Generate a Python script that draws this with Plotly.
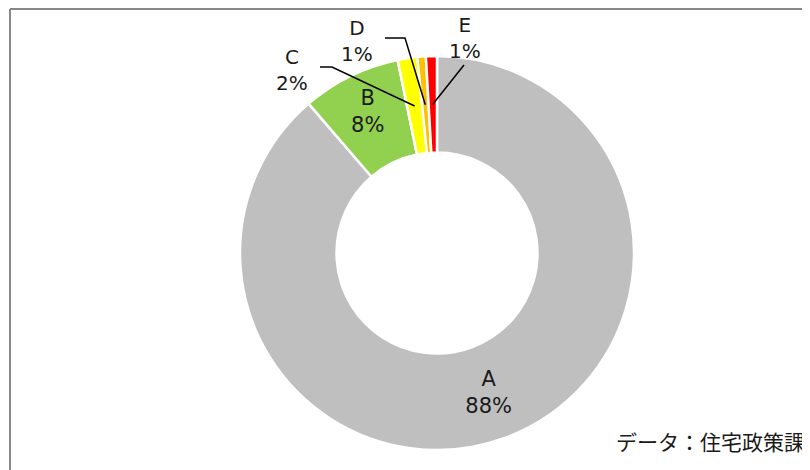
import math
import plotly.graph_objects as go

# ---- data ----
categories = ["A", "B", "C", "D", "E"]
shares = [88.7, 8.1, 1.6, 0.7, 0.9]
pct_labels = ["88%", "8%", "2%", "1%", "1%"]
colors = ["#BFBFBF", "#92D050", "#FFFF00", "#FFC000", "#FF0000"]
source_text = "データ：住宅政策課"

# the page body has an 8px margin: figure pixels = screen pixels - 8
OFF = 8
W, H = 810 - OFF, 470 - OFF
CX, CY, R = 437 - OFF, 253 - OFF, 197
HOLE = 0.51
FONT = "DejaVu Sans, Noto Sans CJK JP, sans-serif"
CJK_FONT = "Noto Sans CJK JP, sans-serif"
LABEL_SIZE = 21


def px(x):
    return x / W


def py(y):
    return 1 - y / H


fig = go.Figure()
fig.add_trace(go.Pie(
    labels=categories,
    values=shares,
    sort=False,
    direction="clockwise",
    rotation=0,
    hole=HOLE,
    marker=dict(colors=colors, line=dict(color="white", width=2.5)),
    text=[f"{c}<br>{p}" for c, p in zip(categories, pct_labels)],
    texttemplate=["%{text}", "%{text}", "", "", ""],
    textposition=["inside", "inside", "none", "none", "none"],
    insidetextorientation="horizontal",
    textfont=dict(family=FONT, size=LABEL_SIZE, color="#1a1a1a"),
    hoverinfo="label+percent",
    showlegend=False,
    domain=dict(x=[px(CX - R), px(CX + R)], y=[py(CY + R), py(CY - R)]),
))

# slice mid angles (clockwise from 12 o'clock) computed from the data
total = sum(shares)
mids = []
cum = 0.0
for v in shares:
    mids.append((cum + v / 2) / total * 2 * math.pi)
    cum += v

r_anchor = (R + R * HOLE) / 2


def anchor(i):
    a = mids[i]
    return CX + r_anchor * math.sin(a), CY - r_anchor * math.cos(a)


# outside labels with leader lines for the small slices (screen px, shifted)
label_pos = {2: (292, 70), 3: (357, 41), 4: (465, 38)}
leader_start = {2: [(320, 67), (332, 67)], 3: [(385, 38), (405, 38)], 4: [(464, 65)]}

annotations = []
shapes = []
for i, (lx, ly) in label_pos.items():
    annotations.append(dict(
        x=px(lx - OFF), y=py(ly - OFF), xref="paper", yref="paper",
        text=f"{categories[i]}<br>{pct_labels[i]}", showarrow=False,
        font=dict(family=FONT, size=LABEL_SIZE - 1, color="#1a1a1a"),
        xanchor="center", yanchor="middle",
    ))
    pts = [(x - OFF, y - OFF) for x, y in leader_start[i]] + [anchor(i)]
    path = "M " + " L ".join(f"{px(x)},{py(y)}" for x, y in pts)
    shapes.append(dict(type="path", xref="paper", yref="paper", path=path,
                       line=dict(color="black", width=1.5)))

annotations.append(dict(
    x=px(807 - OFF), y=py(441 - OFF), xref="paper", yref="paper",
    text=source_text, showarrow=False,
    font=dict(family=CJK_FONT, size=21, color="#1a1a1a"),
    xanchor="right", yanchor="middle",
))

# chart frame (left and top edges visible)
shapes.append(dict(type="line", xref="paper", yref="paper",
                   x0=px(10 - OFF), y0=py(9 - OFF), x1=px(W + 4), y1=py(9 - OFF),
                   line=dict(color="#888888", width=2)))
shapes.append(dict(type="line", xref="paper", yref="paper",
                   x0=px(10 - OFF), y0=py(9 - OFF), x1=px(10 - OFF), y1=py(H + 4),
                   line=dict(color="#888888", width=2)))

fig.update_layout(
    width=W, height=H,
    margin=dict(l=0, r=0, t=0, b=0),
    paper_bgcolor="white",
    plot_bgcolor="white",
    annotations=annotations,
    shapes=shapes,
)

fig.write_html("out.html")
